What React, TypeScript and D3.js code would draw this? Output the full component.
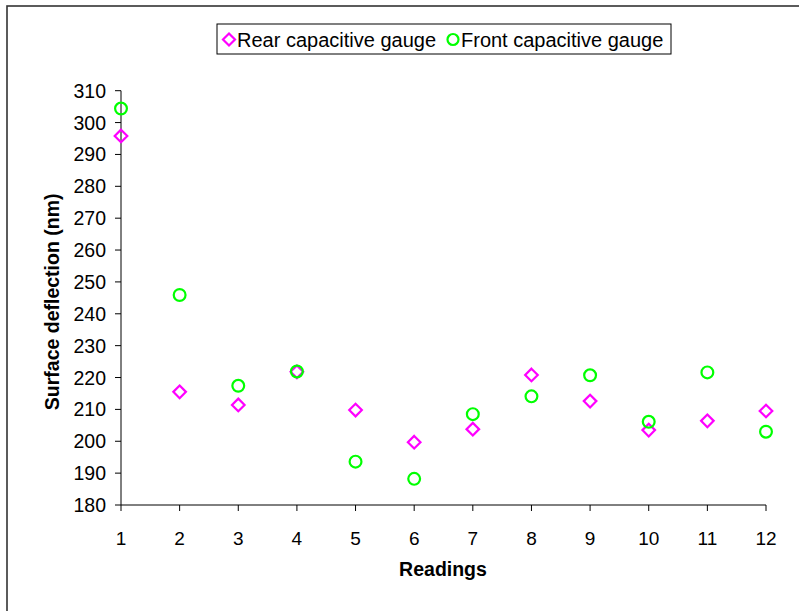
import React from "react";
import * as d3 from "d3";

const readings = [1, 2, 3, 4, 5, 6, 7, 8, 9, 10, 11, 12];
const rearGauge = [295.8, 215.5, 211.4, 221.8, 209.8, 199.7, 203.8, 220.8, 212.6, 203.5, 206.4, 209.5];
const frontGauge = [304.4, 245.9, 217.4, 221.9, 193.6, 188.2, 208.5, 214.1, 220.7, 206.1, 221.6, 203.0];
const yTicks = [180, 190, 200, 210, 220, 230, 240, 250, 260, 270, 280, 290, 300, 310];
const seriesNames = ["Rear capacitive gauge", "Front capacitive gauge"];

const W = 799;
const H = 611;
const FONT = "'Liberation Sans', Arial, Helvetica, sans-serif";

export default function App() {
  const x = d3.scaleLinear().domain([1, 12]).range([121, 766]);
  const y = d3.scaleLinear().domain([180, 310]).range([505, 90.7]);
  const diamond = (cx: number, cy: number, r: number) =>
    `M${cx},${cy - r}L${cx + r},${cy}L${cx},${cy + r}L${cx - r},${cy}Z`;
  const magenta = "#FF00FF";
  const green = "#00FF00";

  return (
    <svg
      width={W}
      height={H}
      style={{ position: "absolute", left: 0, top: 0, background: "#fff" }}
      fontFamily={FONT}
    >
      <rect x={0} y={0} width={W} height={H} fill="#fff" />
      <rect x={7} y={6} width={W + 10} height={H + 10} fill="none" stroke="#333" strokeWidth={1.6} />

      {/* y axis */}
      <line x1={x(1)} x2={x(1)} y1={y(310)} y2={y(180)} stroke="#000" strokeWidth={1} />
      {yTicks.map((t) => (
        <g key={"y" + t}>
          <line x1={x(1) - 6} x2={x(1)} y1={y(t)} y2={y(t)} stroke="#000" />
          <text x={106} y={y(t)} dy="0.36em" textAnchor="end" fontSize={19.5} fill="#000">
            {t}
          </text>
        </g>
      ))}
      {/* x axis */}
      <line x1={x(1)} x2={x(12)} y1={y(180)} y2={y(180)} stroke="#000" strokeWidth={1} />
      {readings.map((r) => (
        <g key={"x" + r}>
          <line x1={x(r)} x2={x(r)} y1={y(180)} y2={y(180) + 6} stroke="#000" />
          <text x={x(r)} y={545} textAnchor="middle" fontSize={19} fill="#000">
            {r}
          </text>
        </g>
      ))}

      <text x={443} y={576} textAnchor="middle" fontSize={19.5} fontWeight="bold" fill="#000">
        Readings
      </text>
      <text
        transform={`translate(59,${(y(310) + y(180)) / 2 + 4}) rotate(-90)`}
        textAnchor="middle"
        fontSize={19.5}
        fontWeight="bold"
        fill="#000"
      >
        Surface deflection (nm)
      </text>

      {/* data */}
      {readings.map((r, i) => (
        <path
          key={"r" + r}
          d={diamond(x(r), y(rearGauge[i]), 6.3)}
          fill="none"
          stroke={magenta}
          strokeWidth={2.2}
        />
      ))}
      {readings.map((r, i) => (
        <circle key={"f" + r} cx={x(r)} cy={y(frontGauge[i])} r={5.9} fill="none" stroke={green} strokeWidth={2.2} />
      ))}

      {/* legend */}
      <rect x={217} y={24} width={454} height={30} fill="#fff" stroke="#000" strokeWidth={1} />
      <path d={diamond(229, 39.5, 6)} fill="none" stroke={magenta} strokeWidth={2.2} />
      <text x={237} y={39.5} dy="0.36em" fontSize={20} fill="#000">
        {seriesNames[0]}
      </text>
      <circle cx={453} cy={39.5} r={5.5} fill="none" stroke={green} strokeWidth={2.2} />
      <text x={461} y={39.5} dy="0.36em" fontSize={20} fill="#000">
        {seriesNames[1]}
      </text>
    </svg>
  );
}
